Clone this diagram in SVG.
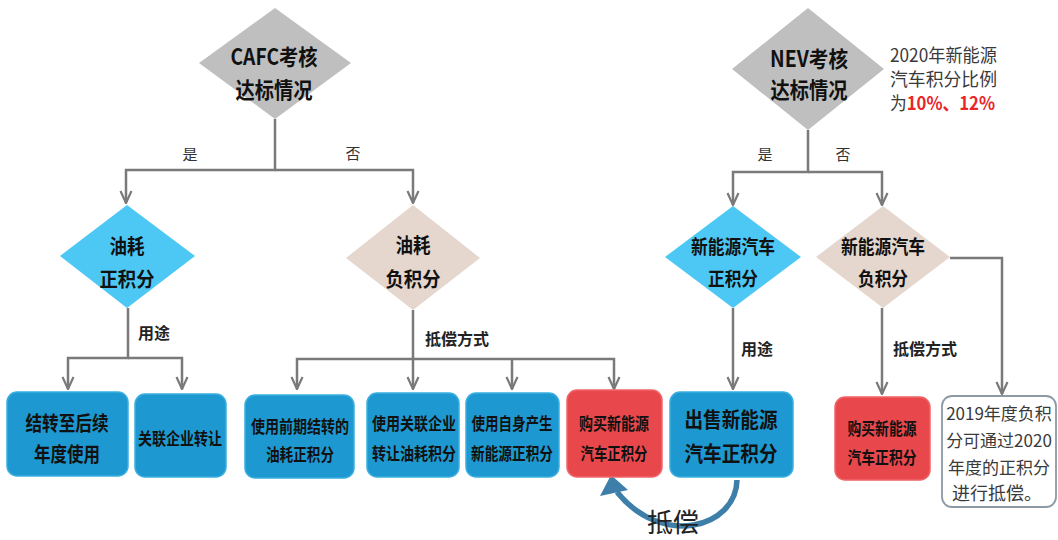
<svg xmlns="http://www.w3.org/2000/svg" width="1058" height="540" viewBox="0 0 1058 540">
<defs>
<marker id="arr" viewBox="0 0 14 14" refX="13" refY="7" markerWidth="14" markerHeight="14" markerUnits="userSpaceOnUse" orient="auto">
<path d="M1 1.5 L13 7 L1 12.5" fill="none" stroke="#7a7a7a" stroke-width="2.2" stroke-linejoin="miter"/>
</marker>
</defs>
<style>
text{font-family:"Noto Sans CJK SC","Noto Sans",sans-serif;dominant-baseline:central;text-anchor:middle;}
.b{font-weight:bold;fill:#111;}
.lbl{font-size:15px;fill:#333;}
.lb{font-size:16px;font-weight:bold;fill:#222;}
.conn{fill:none;stroke:#7a7a7a;stroke-width:2.5;}
.gray{fill:#BFBFBF;}
.lblue{fill:#4DC8F4;}
.beige{fill:#E5D7CE;}
.box{fill:#1D98D0;stroke:#3AAEE0;stroke-width:1.5;}
.red{fill:#E8484C;stroke:#F06468;stroke-width:1.5;}
.note{fill:#fff;stroke:#8C9AA5;stroke-width:1.8;}
.nt{font-size:18px;fill:#3a3a3a;text-anchor:start;}
.ns{font-size:17px;fill:#3a3a3a;text-anchor:middle;}
</style>
<rect width="1058" height="540" fill="#fff"/>

<g id="connectors">
<path class="conn" d="M275 119 V170 H126 V203" marker-end="url(#arr)"/>
<path class="conn" d="M275 170 H413 V203" marker-end="url(#arr)"/>
<path class="conn" d="M128 308 V358 H68 V389" marker-end="url(#arr)"/>
<path class="conn" d="M128 358 H182 V389" marker-end="url(#arr)"/>
<path class="conn" d="M413 310 V389" marker-end="url(#arr)"/>
<path class="conn" d="M413 359 H297 V389" marker-end="url(#arr)"/>
<path class="conn" d="M413 359 H614 V389" marker-end="url(#arr)"/>
<path class="conn" d="M512 359 V389" marker-end="url(#arr)"/>
<path class="conn" d="M808 130 V172 H733 V205" marker-end="url(#arr)"/>
<path class="conn" d="M808 172 H882 V205" marker-end="url(#arr)"/>
<path class="conn" d="M733 308 V389" marker-end="url(#arr)"/>
<path class="conn" d="M882 308 V394" marker-end="url(#arr)"/>
<path class="conn" d="M950 258 H1002 V394" marker-end="url(#arr)"/>
<text class="lbl" x="190" y="153">是</text>
<text class="lbl" x="353" y="152">否</text>
<text class="lbl" x="765" y="153">是</text>
<text class="lbl" x="843" y="153">否</text>
<text class="lb" x="154" y="332">用途</text>
<text class="lb" x="457" y="338">抵偿方式</text>
<text class="lb" x="757" y="348">用途</text>
<text class="lb" x="925" y="348">抵偿方式</text>
<g id="offset-arrow">
<path d="M737 480 C736 528 662 548 617 492" fill="none" stroke="#3E7FAA" stroke-width="5.5"/>
<polygon points="611,475 600,496 628,490" fill="#3E7FAA"/>
<text x="673" y="520" style="font-size:26px;fill:#222;">抵偿</text>
</g>
</g>

<g id="cafc">
<polygon class="gray" points="275,8 351,63 275,119 199,63"/>
<text class="b" x="274" y="55" font-size="22" textLength="87" lengthAdjust="spacingAndGlyphs">CAFC考核</text>
<text class="b" x="274" y="88" font-size="22" textLength="77" lengthAdjust="spacingAndGlyphs">达标情况</text>
</g>

<g id="nev">
<polygon class="gray" points="808,8 884,69 808,130 732,69"/>
<text class="b" x="809" y="57" font-size="22" textLength="78" lengthAdjust="spacingAndGlyphs">NEV考核</text>
<text class="b" x="809" y="88" font-size="22" textLength="77" lengthAdjust="spacingAndGlyphs">达标情况</text>
</g>

<g id="nev-ratio">
<text class="nt" x="890" y="54" font-size="19" textLength="107" lengthAdjust="spacingAndGlyphs">2020年新能源</text>
<text class="nt" x="890" y="78" font-size="19" textLength="107" lengthAdjust="spacingAndGlyphs">汽车积分比例</text>
<text class="nt" x="890" y="102" font-size="19" textLength="105" lengthAdjust="spacingAndGlyphs">为<tspan fill="#E8262B" font-weight="bold">10%、12%</tspan></text>
</g>

<g id="oil-pos">
<polygon class="lblue" points="127,205 195,256 127,308 60,256"/>
<text class="b" x="127" y="245" font-size="20" textLength="35" lengthAdjust="spacingAndGlyphs">油耗</text>
<text class="b" x="127" y="278" font-size="20" textLength="55" lengthAdjust="spacingAndGlyphs">正积分</text>
</g>

<g id="oil-neg">
<polygon class="beige" points="413,205 480,258 413,310 346,258"/>
<text class="b" x="413" y="244" font-size="20" textLength="35" lengthAdjust="spacingAndGlyphs">油耗</text>
<text class="b" x="413" y="278" font-size="20" textLength="55" lengthAdjust="spacingAndGlyphs">负积分</text>
</g>

<g id="nev-pos">
<polygon class="lblue" points="733,206 801,257 733,308 665,257"/>
<text class="b" x="733" y="245" font-size="19" textLength="84" lengthAdjust="spacingAndGlyphs">新能源汽车</text>
<text class="b" x="733" y="277" font-size="19" textLength="50" lengthAdjust="spacingAndGlyphs">正积分</text>
</g>

<g id="nev-neg">
<polygon class="beige" points="883,206 950,257 883,308 816,257"/>
<text class="b" x="883" y="245" font-size="19" textLength="84" lengthAdjust="spacingAndGlyphs">新能源汽车</text>
<text class="b" x="883" y="277" font-size="19" textLength="50" lengthAdjust="spacingAndGlyphs">负积分</text>
</g>

<g id="box-carry">
<rect class="box" x="7" y="392" width="121" height="84" rx="10"/>
<text class="b" x="67" y="422" font-size="20" textLength="83" lengthAdjust="spacingAndGlyphs">结转至后续</text>
<text class="b" x="67" y="453" font-size="20" textLength="66" lengthAdjust="spacingAndGlyphs">年度使用</text>
</g>

<g id="box-transfer">
<rect class="box" x="135" y="394" width="91" height="83" rx="10"/>
<text class="b" x="180" y="437" font-size="17" textLength="84" lengthAdjust="spacingAndGlyphs">关联企业转让</text>
</g>

<g id="box-prior">
<rect class="box" x="245" y="395" width="109" height="83" rx="10"/>
<text class="b" x="300" y="425" font-size="17" textLength="98" lengthAdjust="spacingAndGlyphs">使用前期结转的</text>
<text class="b" x="300" y="453" font-size="17" textLength="68" lengthAdjust="spacingAndGlyphs">油耗正积分</text>
</g>

<g id="box-affiliate">
<rect class="box" x="367" y="393" width="92" height="84" rx="10"/>
<text class="b" x="414" y="422" font-size="17" textLength="84" lengthAdjust="spacingAndGlyphs">使用关联企业</text>
<text class="b" x="414" y="452" font-size="17" textLength="84" lengthAdjust="spacingAndGlyphs">转让油耗积分</text>
</g>

<g id="box-own">
<rect class="box" x="466" y="393" width="93" height="84" rx="10"/>
<text class="b" x="512" y="422" font-size="17" textLength="81" lengthAdjust="spacingAndGlyphs">使用自身产生</text>
<text class="b" x="512" y="452" font-size="17" textLength="82" lengthAdjust="spacingAndGlyphs">新能源正积分</text>
</g>

<g id="box-buy1">
<rect class="red" x="567" y="390" width="95" height="87" rx="10"/>
<text class="b" x="614" y="422" font-size="17" textLength="70" lengthAdjust="spacingAndGlyphs">购买新能源</text>
<text class="b" x="614" y="452" font-size="17" textLength="67" lengthAdjust="spacingAndGlyphs">汽车正积分</text>
</g>

<g id="box-sell">
<rect class="box" x="670" y="392" width="123" height="85" rx="10"/>
<text class="b" x="731" y="418" font-size="21" textLength="93" lengthAdjust="spacingAndGlyphs">出售新能源</text>
<text class="b" x="731" y="452" font-size="21" textLength="93" lengthAdjust="spacingAndGlyphs">汽车正积分</text>
</g>

<g id="box-buy2">
<rect class="red" x="835" y="397" width="95" height="83" rx="10"/>
<text class="b" x="882" y="427" font-size="17" textLength="69" lengthAdjust="spacingAndGlyphs">购买新能源</text>
<text class="b" x="882" y="456" font-size="17" textLength="69" lengthAdjust="spacingAndGlyphs">汽车正积分</text>
</g>

<g id="note-2019">
<rect class="note" x="942" y="396" width="114" height="111" rx="10"/>
<text class="ns" x="999" y="412">2019年度负积</text>
<text class="ns" x="999" y="439">分可通过2020</text>
<text class="ns" x="999" y="466">年度的正积分</text>
<text class="nt" x="952" y="492" font-size="17">进行抵偿。</text>
</g>
</svg>
